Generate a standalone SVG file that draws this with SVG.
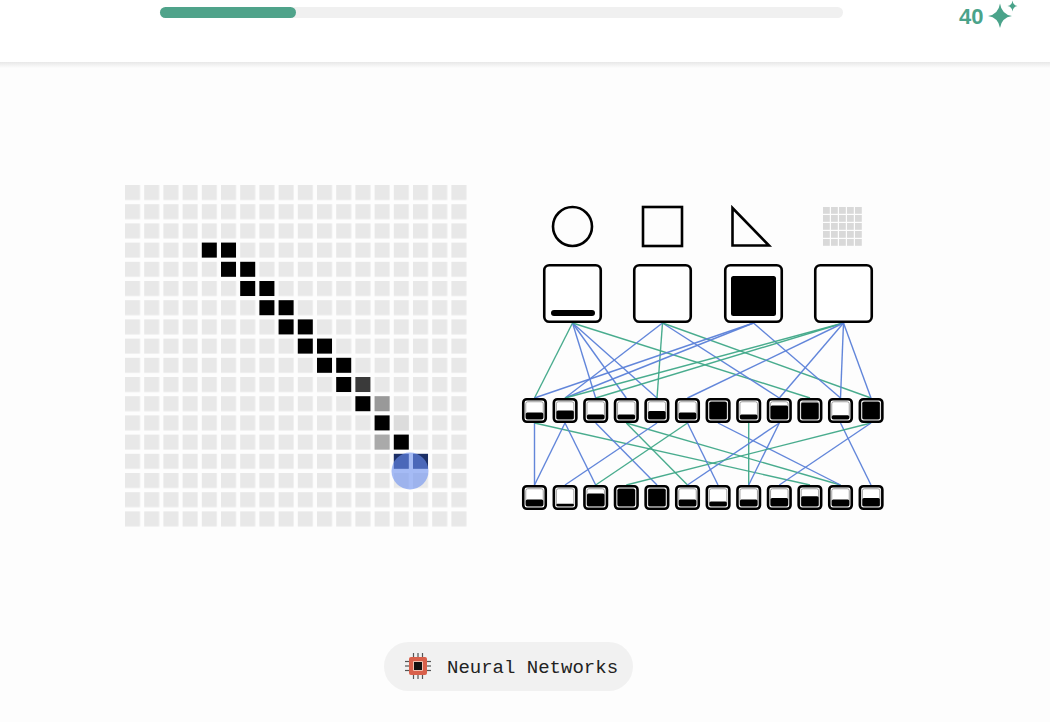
<svg xmlns="http://www.w3.org/2000/svg" width="1050" height="722" viewBox="0 0 1050 722">
<defs>
<style>
.cell{fill:#000}
.node-out{fill:#fff;stroke:#000;stroke-width:2.6}
.node-in{fill:none;stroke:#777;stroke-width:0.7}
.bar{fill:#000}
.big{fill:#fff;stroke:#000;stroke-width:2.6}
.b{stroke:#5a7fd8;stroke-width:1.4;fill:none;opacity:0.95}
.g{stroke:#3fa888;stroke-width:1.4;fill:none;opacity:0.95}
.shape{fill:none;stroke:#000;stroke-width:2.6}
</style>
<pattern id="gridpat" patternUnits="userSpaceOnUse" x="125" y="185" width="19.2" height="19.2">
<rect x="0" y="0" width="15" height="15" fill="#e8e8e8"/>
</pattern>
<pattern id="iconpat" patternUnits="userSpaceOnUse" x="823" y="207" width="8" height="8">
<rect x="0" y="0" width="6.8" height="6.8" fill="#d9d9d9"/>
</pattern>
<linearGradient id="shadow" x1="0" y1="0" x2="0" y2="1">
<stop offset="0" stop-color="#e8e8e8"/>
<stop offset="1" stop-color="#fdfdfd"/>
</linearGradient>
</defs>
<rect x="0" y="0" width="1050" height="722" fill="#fdfdfd"/>
<g id="header">
<rect x="0" y="0" width="1050" height="62" fill="#ffffff"/>
<rect x="0" y="62" width="1050" height="6" fill="url(#shadow)"/>
<rect x="160" y="7" width="683" height="11" rx="5.5" fill="#f0f0f0"/>
<rect x="160" y="7" width="136" height="11" rx="5.5" fill="#4fa38a"/>
<text x="959" y="23.5" font-family="Liberation Sans, Arial, sans-serif" font-weight="bold" font-size="22" fill="#4aa38a">40</text>
<path d="M1000,3.5 Q1001.6,14.4 1012,16 Q1001.6,17.6 1000,28 Q998.4,17.6 988,16 Q998.4,14.4 1000,3.5Z" fill="#4aa38a"/>
<path d="M1012.5,0.5 Q1013.1,5.4 1017.5,6 Q1013.1,6.6 1012.5,11.5 Q1011.9,6.6 1007.5,6 Q1011.9,5.4 1012.5,0.5Z" fill="#4aa38a"/>
</g>
<g id="pixel-grid">
<rect x="125" y="185" width="345" height="345" fill="url(#gridpat)"/>
<rect class="cell" x="201.8" y="242.6" width="15" height="15"/>
<rect class="cell" x="221" y="242.6" width="15" height="15"/>
<rect class="cell" x="221" y="261.8" width="15" height="15"/>
<rect class="cell" x="240.2" y="261.8" width="15" height="15"/>
<rect class="cell" x="240.2" y="281" width="15" height="15"/>
<rect class="cell" x="259.4" y="281" width="15" height="15"/>
<rect class="cell" x="259.4" y="300.2" width="15" height="15"/>
<rect class="cell" x="278.6" y="300.2" width="15" height="15"/>
<rect class="cell" x="278.6" y="319.4" width="15" height="15"/>
<rect class="cell" x="297.8" y="319.4" width="15" height="15"/>
<rect class="cell" x="297.8" y="338.6" width="15" height="15"/>
<rect class="cell" x="317" y="338.6" width="15" height="15"/>
<rect class="cell" x="317" y="357.8" width="15" height="15"/>
<rect class="cell" x="336.2" y="357.8" width="15" height="15"/>
<rect class="cell" x="336.2" y="377" width="15" height="15"/>
<rect x="355.4" y="377" width="15" height="15" fill="#3a3a3a"/>
<rect class="cell" x="355.4" y="396.2" width="15" height="15"/>
<rect x="374.6" y="396.2" width="15" height="15" fill="#999"/>
<rect class="cell" x="374.6" y="415.4" width="15" height="15"/>
<rect x="393.8" y="415.4" width="15" height="15" fill="#dcdcdc"/>
<rect x="374.6" y="434.6" width="15" height="15" fill="#aaa"/>
<rect class="cell" x="393.8" y="434.6" width="15" height="15"/>
<rect x="393.8" y="453.8" width="15" height="15" fill="#1c2f66"/>
<rect x="413" y="453.8" width="15" height="15" fill="#1c2f66"/>
<circle cx="410" cy="471" r="18.5" fill="#6a8ff0" opacity="0.6"/>
</g>
<g id="shape-icons">
<circle class="shape" cx="572.5" cy="226.5" r="19.5"/>
<rect class="shape" x="643" y="207" width="39" height="39"/>
<path class="shape" d="M732.5,208 L732.5,245.5 L769,245.5 Z"/>
<rect x="823" y="207" width="40" height="40" fill="url(#iconpat)"/>
</g>
<g id="connectors">
<line class="g" x1="572.5" y1="323" x2="534.5" y2="398"/>
<line class="b" x1="572.5" y1="323" x2="595.7" y2="398"/>
<line class="b" x1="572.5" y1="323" x2="626.3" y2="398"/>
<line class="b" x1="572.5" y1="323" x2="657" y2="398"/>
<line class="g" x1="572.5" y1="323" x2="810" y2="398"/>
<line class="b" x1="662.5" y1="323" x2="565" y2="398"/>
<line class="g" x1="662.5" y1="323" x2="657" y2="398"/>
<line class="b" x1="662.5" y1="323" x2="779.3" y2="398"/>
<line class="g" x1="662.5" y1="323" x2="871" y2="398"/>
<line class="b" x1="753.5" y1="323" x2="534.5" y2="398"/>
<line class="b" x1="753.5" y1="323" x2="565" y2="398"/>
<line class="b" x1="753.5" y1="323" x2="840.5" y2="398"/>
<line class="g" x1="843.5" y1="323" x2="565" y2="398"/>
<line class="g" x1="843.5" y1="323" x2="595.7" y2="398"/>
<line class="b" x1="843.5" y1="323" x2="687.5" y2="398"/>
<line class="b" x1="843.5" y1="323" x2="779.3" y2="398"/>
<line class="b" x1="843.5" y1="323" x2="840.5" y2="398"/>
<line class="b" x1="843.5" y1="323" x2="871" y2="398"/>
<line class="b" x1="534.5" y1="423" x2="534.5" y2="485"/>
<line class="g" x1="534.5" y1="423" x2="810" y2="485"/>
<line class="b" x1="565" y1="423" x2="534.5" y2="485"/>
<line class="b" x1="565" y1="423" x2="595.7" y2="485"/>
<line class="b" x1="595.7" y1="423" x2="657" y2="485"/>
<line class="g" x1="626.3" y1="423" x2="687.5" y2="485"/>
<line class="g" x1="626.3" y1="423" x2="840.5" y2="485"/>
<line class="b" x1="657" y1="423" x2="565" y2="485"/>
<line class="g" x1="687.5" y1="423" x2="595.7" y2="485"/>
<line class="b" x1="687.5" y1="423" x2="718" y2="485"/>
<line class="b" x1="718" y1="423" x2="840.5" y2="485"/>
<line class="g" x1="748.7" y1="423" x2="748.7" y2="485"/>
<line class="b" x1="779.3" y1="423" x2="748.7" y2="485"/>
<line class="b" x1="779.3" y1="423" x2="687.5" y2="485"/>
<line class="b" x1="840.5" y1="423" x2="871" y2="485"/>
<line class="g" x1="871" y1="423" x2="626.3" y2="485"/>
<line class="b" x1="871" y1="423" x2="779.3" y2="485"/>
</g>
<g id="output-1"><rect class="big" x="544.25" y="265.25" width="56.5" height="56.5" rx="5"/><rect x="551" y="310" width="44" height="6" rx="3" fill="#000"/></g>
<g id="output-2"><rect class="big" x="634.25" y="265.25" width="56.5" height="56.5" rx="5"/></g>
<g id="output-3"><rect class="big" x="725.25" y="265.25" width="56.5" height="56.5" rx="5"/><rect x="731" y="276" width="45" height="40" rx="2.5" fill="#000"/></g>
<g id="output-4"><rect class="big" x="815.25" y="265.25" width="56.5" height="56.5" rx="5"/></g>
<g id="hidden-nodes">
<g id="h1"><rect class="node-out" x="523.25" y="399.25" width="22.5" height="22.5" rx="3.5"/><rect class="node-in" x="525.75" y="401.75" width="17.5" height="17.5" rx="2"/><rect class="bar" x="525.75" y="412.6" width="17.5" height="6.6" rx="1.5"/></g>
<g id="h2"><rect class="node-out" x="553.85" y="399.25" width="22.5" height="22.5" rx="3.5"/><rect class="node-in" x="556.35" y="401.75" width="17.5" height="17.5" rx="2"/><rect class="bar" x="556.35" y="410.5" width="17.5" height="8.75" rx="1.5"/></g>
<g id="h3"><rect class="node-out" x="584.45" y="399.25" width="22.5" height="22.5" rx="3.5"/><rect class="node-in" x="586.95" y="401.75" width="17.5" height="17.5" rx="2"/><rect class="bar" x="586.95" y="414.4" width="17.5" height="4.9" rx="1.5"/></g>
<g id="h4"><rect class="node-out" x="615.05" y="399.25" width="22.5" height="22.5" rx="3.5"/><rect class="node-in" x="617.55" y="401.75" width="17.5" height="17.5" rx="2"/><rect class="bar" x="617.55" y="414.4" width="17.5" height="4.9" rx="1.5"/></g>
<g id="h5"><rect class="node-out" x="645.65" y="399.25" width="22.5" height="22.5" rx="3.5"/><rect class="node-in" x="648.15" y="401.75" width="17.5" height="17.5" rx="2"/><rect class="bar" x="648.15" y="411" width="17.5" height="8.3" rx="1.5"/></g>
<g id="h6"><rect class="node-out" x="676.25" y="399.25" width="22.5" height="22.5" rx="3.5"/><rect class="node-in" x="678.75" y="401.75" width="17.5" height="17.5" rx="2"/><rect class="bar" x="678.75" y="412.6" width="17.5" height="6.6" rx="1.5"/></g>
<g id="h7"><rect class="node-out" x="706.85" y="399.25" width="22.5" height="22.5" rx="3.5"/><rect class="node-in" x="709.35" y="401.75" width="17.5" height="17.5" rx="2"/><rect class="bar" x="709.35" y="401.75" width="17.5" height="17.5" rx="1.5"/></g>
<g id="h8"><rect class="node-out" x="737.45" y="399.25" width="22.5" height="22.5" rx="3.5"/><rect class="node-in" x="739.95" y="401.75" width="17.5" height="17.5" rx="2"/><rect class="bar" x="739.95" y="414.4" width="17.5" height="4.9" rx="1.5"/></g>
<g id="h9"><rect class="node-out" x="768.05" y="399.25" width="22.5" height="22.5" rx="3.5"/><rect class="node-in" x="770.55" y="401.75" width="17.5" height="17.5" rx="2"/><rect class="bar" x="770.55" y="405.6" width="17.5" height="13.6" rx="1.5"/></g>
<g id="h10"><rect class="node-out" x="798.65" y="399.25" width="22.5" height="22.5" rx="3.5"/><rect class="node-in" x="801.15" y="401.75" width="17.5" height="17.5" rx="2"/><rect class="bar" x="801.15" y="402.4" width="17.5" height="16.8" rx="1.5"/></g>
<g id="h11"><rect class="node-out" x="829.25" y="399.25" width="22.5" height="22.5" rx="3.5"/><rect class="node-in" x="831.75" y="401.75" width="17.5" height="17.5" rx="2"/><rect class="bar" x="831.75" y="415.3" width="17.5" height="4" rx="1.5"/></g>
<g id="h12"><rect class="node-out" x="859.85" y="399.25" width="22.5" height="22.5" rx="3.5"/><rect class="node-in" x="862.35" y="401.75" width="17.5" height="17.5" rx="2"/><rect class="bar" x="862.35" y="401.75" width="17.5" height="17.5" rx="1.5"/></g>
</g>
<g id="input-nodes">
<g id="i1"><rect class="node-out" x="523.25" y="486.25" width="22.5" height="22.5" rx="3.5"/><rect class="node-in" x="525.75" y="488.75" width="17.5" height="17.5" rx="2"/><rect class="bar" x="525.75" y="499.6" width="17.5" height="6.6" rx="1.5"/></g>
<g id="i2"><rect class="node-out" x="553.85" y="486.25" width="22.5" height="22.5" rx="3.5"/><rect class="node-in" x="556.35" y="488.75" width="17.5" height="17.5" rx="2"/><rect class="bar" x="556.35" y="503.8" width="17.5" height="2.4" rx="1"/></g>
<g id="i3"><rect class="node-out" x="584.45" y="486.25" width="22.5" height="22.5" rx="3.5"/><rect class="node-in" x="586.95" y="488.75" width="17.5" height="17.5" rx="2"/><rect class="bar" x="586.95" y="493.5" width="17.5" height="12.75" rx="1.5"/></g>
<g id="i4"><rect class="node-out" x="615.05" y="486.25" width="22.5" height="22.5" rx="3.5"/><rect class="node-in" x="617.55" y="488.75" width="17.5" height="17.5" rx="2"/><rect class="bar" x="617.55" y="488.75" width="17.5" height="17.5" rx="1.5"/></g>
<g id="i5"><rect class="node-out" x="645.65" y="486.25" width="22.5" height="22.5" rx="3.5"/><rect class="node-in" x="648.15" y="488.75" width="17.5" height="17.5" rx="2"/><rect class="bar" x="648.15" y="488.75" width="17.5" height="17.5" rx="1.5"/></g>
<g id="i6"><rect class="node-out" x="676.25" y="486.25" width="22.5" height="22.5" rx="3.5"/><rect class="node-in" x="678.75" y="488.75" width="17.5" height="17.5" rx="2"/><rect class="bar" x="678.75" y="499.6" width="17.5" height="6.6" rx="1.5"/></g>
<g id="i7"><rect class="node-out" x="706.85" y="486.25" width="22.5" height="22.5" rx="3.5"/><rect class="node-in" x="709.35" y="488.75" width="17.5" height="17.5" rx="2"/><rect class="bar" x="709.35" y="501.4" width="17.5" height="4.9" rx="1.5"/></g>
<g id="i8"><rect class="node-out" x="737.45" y="486.25" width="22.5" height="22.5" rx="3.5"/><rect class="node-in" x="739.95" y="488.75" width="17.5" height="17.5" rx="2"/><rect class="bar" x="739.95" y="499.6" width="17.5" height="6.6" rx="1.5"/></g>
<g id="i9"><rect class="node-out" x="768.05" y="486.25" width="22.5" height="22.5" rx="3.5"/><rect class="node-in" x="770.55" y="488.75" width="17.5" height="17.5" rx="2"/><rect class="bar" x="770.55" y="498" width="17.5" height="8.3" rx="1.5"/></g>
<g id="i10"><rect class="node-out" x="798.65" y="486.25" width="22.5" height="22.5" rx="3.5"/><rect class="node-in" x="801.15" y="488.75" width="17.5" height="17.5" rx="2"/><rect class="bar" x="801.15" y="496.2" width="17.5" height="10" rx="1.5"/></g>
<g id="i11"><rect class="node-out" x="829.25" y="486.25" width="22.5" height="22.5" rx="3.5"/><rect class="node-in" x="831.75" y="488.75" width="17.5" height="17.5" rx="2"/><rect class="bar" x="831.75" y="499.6" width="17.5" height="6.6" rx="1.5"/></g>
<g id="i12"><rect class="node-out" x="859.85" y="486.25" width="22.5" height="22.5" rx="3.5"/><rect class="node-in" x="862.35" y="488.75" width="17.5" height="17.5" rx="2"/><rect class="bar" x="862.35" y="498" width="17.5" height="8.3" rx="1.5"/></g>
</g>
<g id="topic-pill">
<rect x="384" y="642" width="249" height="49" rx="24.5" fill="#f1f1f1"/>
<g stroke="#555" stroke-width="1.2">
<line x1="413.5" y1="653" x2="413.5" y2="657"/><line x1="418" y1="653" x2="418" y2="657"/><line x1="422.5" y1="653" x2="422.5" y2="657"/>
<line x1="413.5" y1="675" x2="413.5" y2="679"/><line x1="418" y1="675" x2="418" y2="679"/><line x1="422.5" y1="675" x2="422.5" y2="679"/>
<line x1="405" y1="661.5" x2="409" y2="661.5"/><line x1="405" y1="666" x2="409" y2="666"/><line x1="405" y1="670.5" x2="409" y2="670.5"/>
<line x1="427" y1="661.5" x2="431" y2="661.5"/><line x1="427" y1="666" x2="431" y2="666"/><line x1="427" y1="670.5" x2="431" y2="670.5"/>
</g>
<rect x="409" y="657" width="18" height="18" rx="2" fill="#d8604b"/>
<rect x="413" y="661" width="10" height="10" rx="1" fill="#f0c0b0"/>
<rect x="414" y="662" width="8" height="8" fill="#111"/>
<text x="447" y="673" font-family="Liberation Mono, DejaVu Sans Mono, monospace" font-size="19" fill="#222">Neural Networks</text>
</g>
</svg>
